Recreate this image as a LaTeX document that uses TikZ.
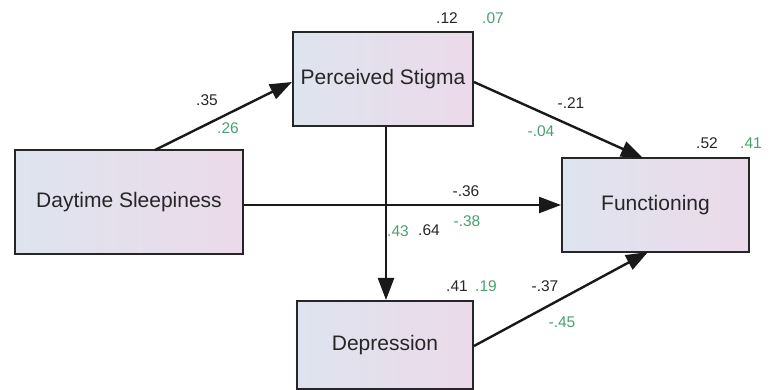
\documentclass[tikz,border=0pt]{standalone}
\usepackage{fontspec}
\setmainfont{Liberation Sans}
\usetikzlibrary{arrows.meta}
\definecolor{grn}{RGB}{72,160,112}
\definecolor{boxl}{RGB}{222,228,238}
\definecolor{boxr}{RGB}{236,218,234}
\tikzset{
  var/.style={draw=black!85, line width=2pt, left color=boxl, right color=boxr, shading angle=90,
    inner sep=0pt, font=\fontsize{21}{21}\selectfont, text=black!85},
  path/.style={line width=2.4pt, draw=black!90, -{Triangle[length=22pt,width=16pt]}},
  num/.style={font=\fontsize{15.5}{15.5}\selectfont, text=black!85},
  gnum/.style={font=\fontsize{15.5}{15.5}\selectfont, text=grn},
}
\begin{document}
\begin{tikzpicture}[x=1pt,y=-1pt]
\useasboundingbox (0,0) rectangle (777,390);
\node[var, minimum width=180pt, minimum height=94pt] (ps) at (383,79) {Perceived Stigma};
\node[var, minimum width=228pt, minimum height=104pt] (ds) at (129,202) {Daytime Sleepiness};
\node[var, minimum width=176pt, minimum height=88pt] (dep) at (385,345) {Depression};
\node[var, minimum width=187pt, minimum height=94pt] (fn) at (655.5,205) {Functioning};
\coordinate (dsTop) at (155,150);
\draw[path] (dsTop) -- (ps.west |- 0,82);
\draw[path] (ps.east |- 0,82) -- (643,158);
\draw[path] (ds.east |- 0,205) -- (fn.west |- 0,205);
\draw[path] (ps.south -| 386,0) -- (dep.north -| 386,0);
\draw[path] (dep.east |- 0,346) -- (648,252);
\node[num] (l1) at (447,18) {.12};
\node[gnum] (l2) at (493,18) {.07};
\node[num] (l3) at (207,100) {.35};
\node[gnum] (l4) at (228,128) {.26};
\node[num] (l5) at (571,103) {-.21};
\node[gnum] (l6) at (541,131) {-.04};
\node[num] (l7) at (707,143) {.52};
\node[gnum] (l8) at (751,143) {.41};
\node[num] (l9) at (466,191) {-.36};
\node[gnum] (l10) at (467,221) {-.38};
\node[gnum] (l11) at (398,231) {.43};
\node[num] (l12) at (429,230) {.64};
\node[num] (l13) at (457,286) {.41};
\node[gnum] (l14) at (486,286) {.19};
\node[num] (l15) at (545,286) {-.37};
\node[gnum] (l16) at (562,322) {-.45};
\end{tikzpicture}
\end{document}
